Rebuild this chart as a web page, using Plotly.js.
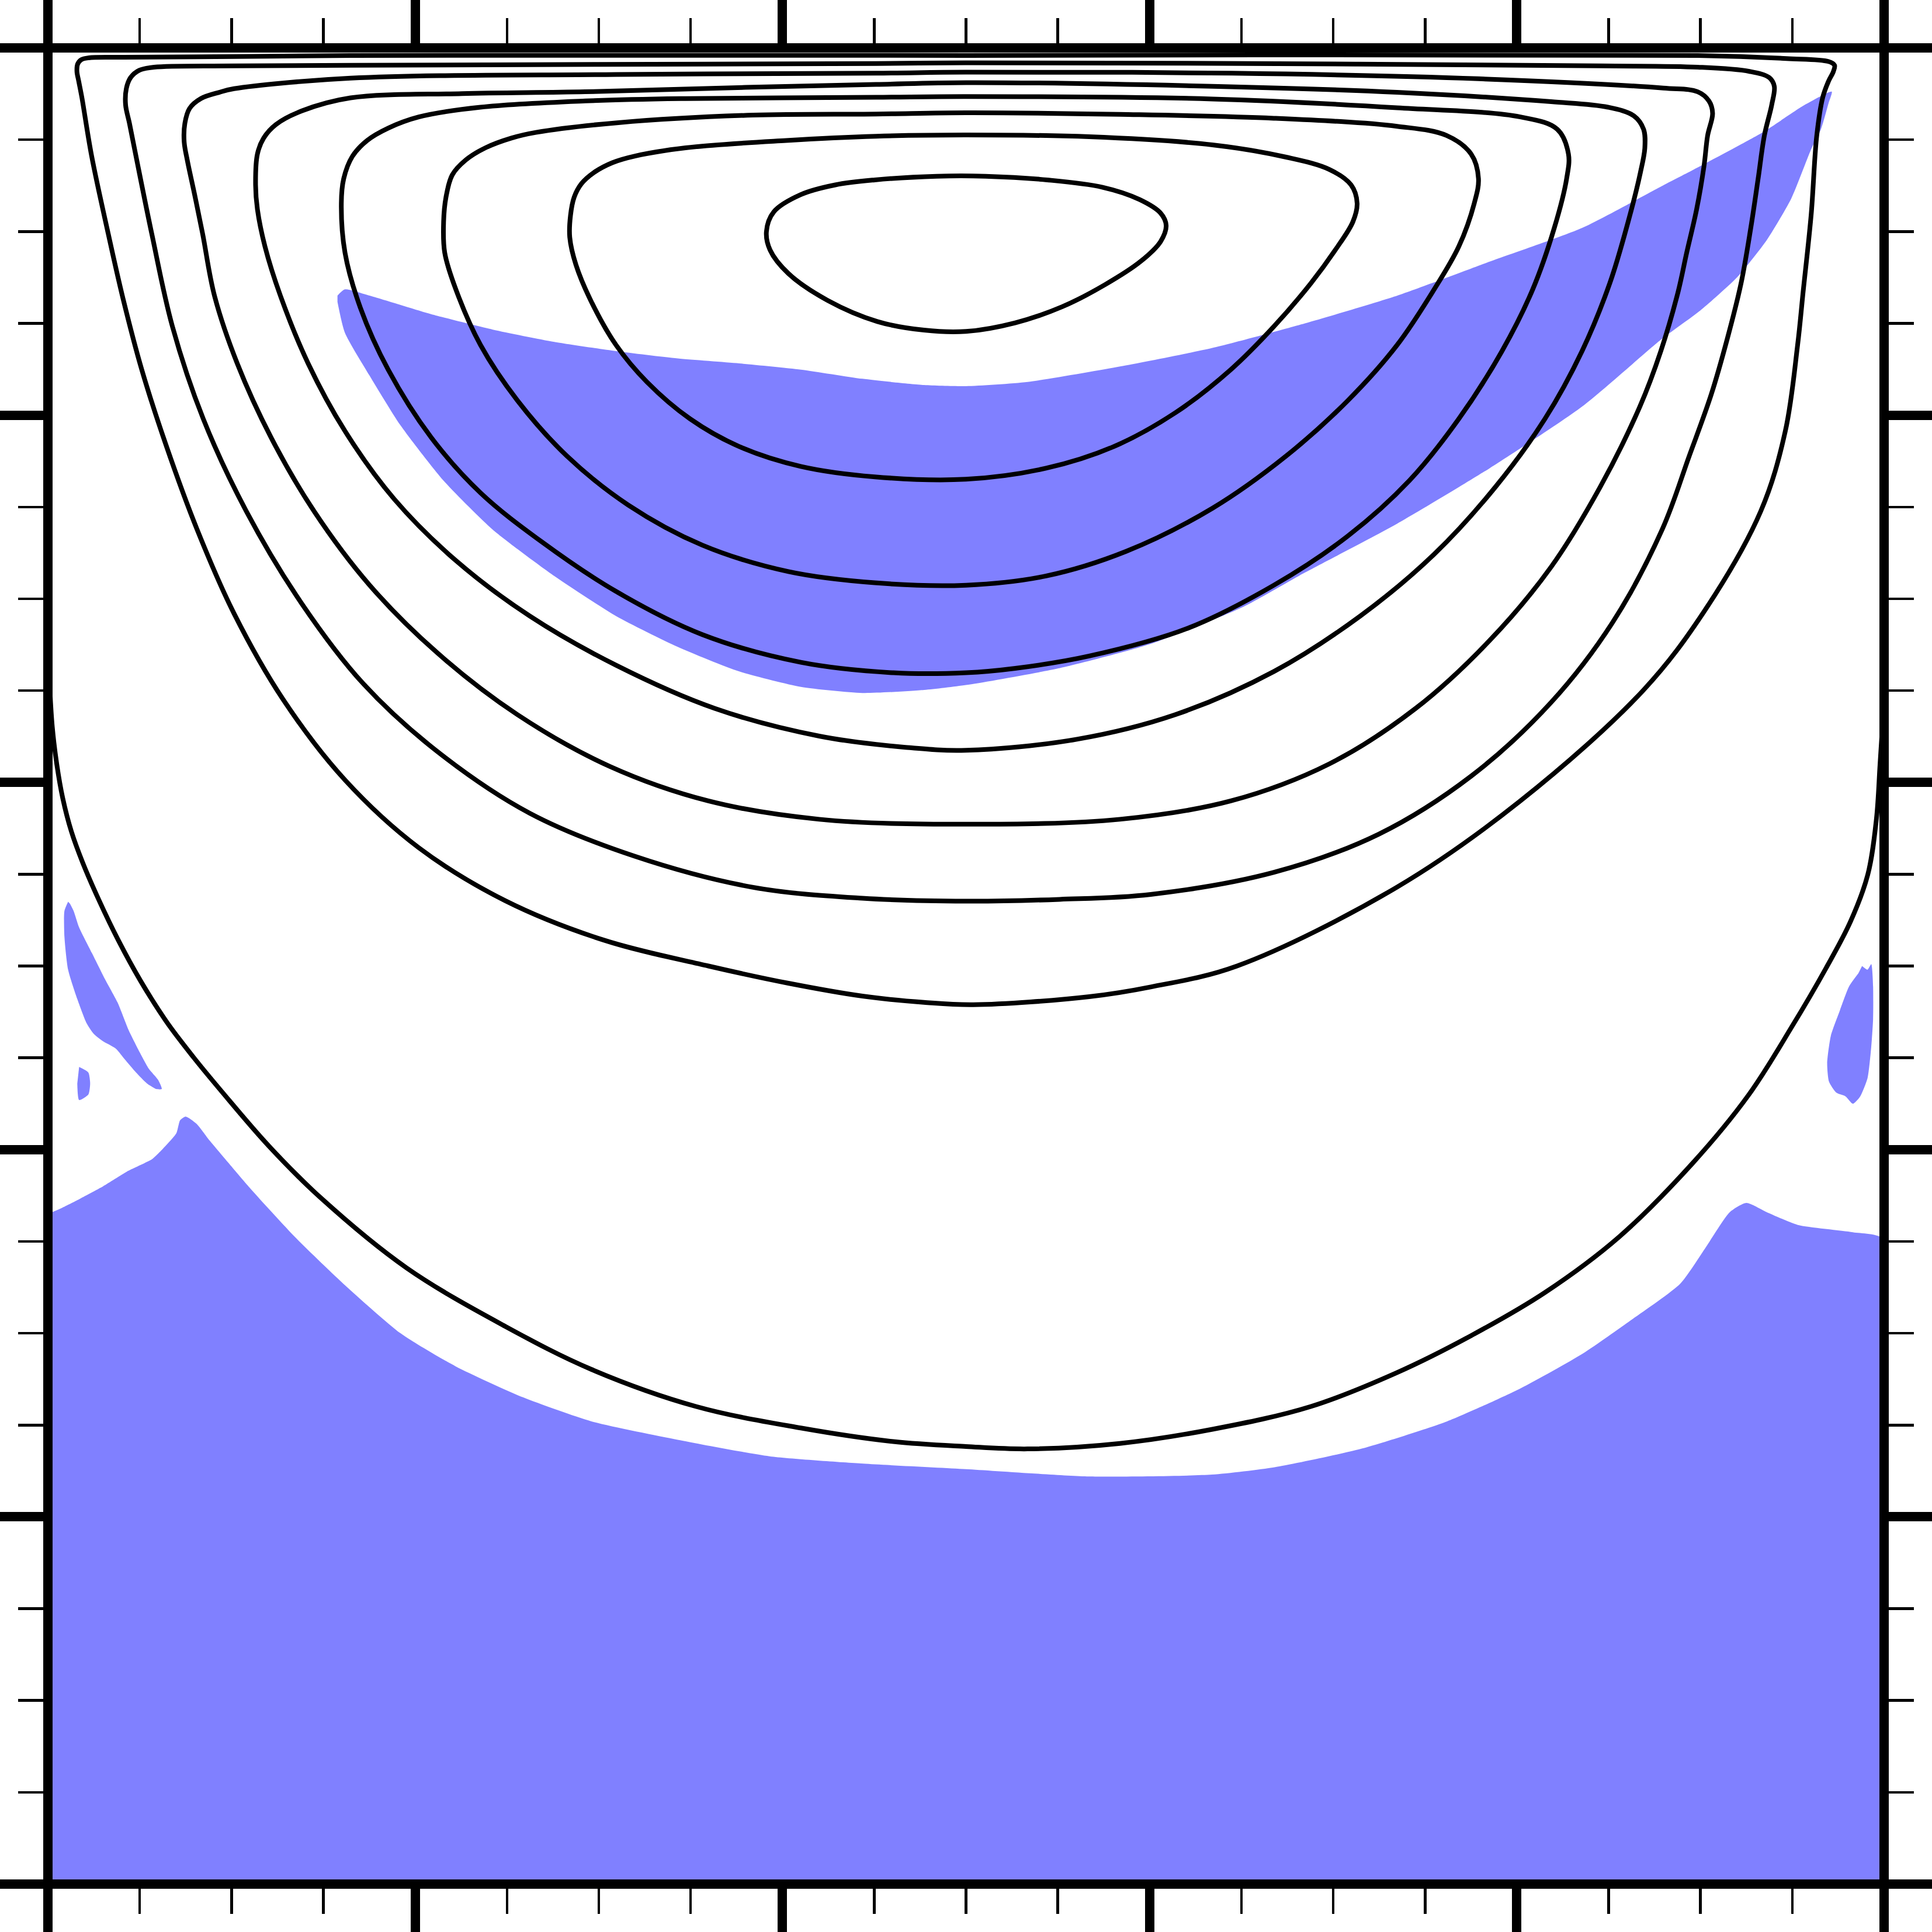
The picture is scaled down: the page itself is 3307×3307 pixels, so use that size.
<!DOCTYPE html>
<html>
<head>
<meta charset="utf-8">
<script src="https://cdn.plot.ly/plotly-3.0.1.min.js"></script>
<style>
  html, body { margin: 0; padding: 0; background: #ffffff; }
  #chart { width: 3307px; height: 3307px; }
</style>
</head>
<body>
<div id="chart"></div>
<script>
// streamline levels (unit cavity, 0..1), inner eddy first
const psi1X = [0.4503,0.4839,0.5107,0.5442,0.5744,0.5946,0.6060,0.6090,0.6060,0.5952,0.5758,0.5523,0.5268,0.5000,0.4771,0.4517,0.4248,0.4033,0.3933,0.3913,0.3953,0.4100,0.4288,0.4503];
const psi1Y = [0.9281,0.9301,0.9301,0.9281,0.9241,0.9174,0.9100,0.9033,0.8946,0.8838,0.8711,0.8590,0.8503,0.8456,0.8463,0.8510,0.8624,0.8771,0.8899,0.8999,0.9107,0.9201,0.9254,0.9281];

const psi2X = [0.5000,0.5671,0.6342,0.6744,0.6979,0.7097,0.7130,0.7107,0.7013,0.6878,0.6677,0.6442,0.6140,0.5805,0.5436,0.5000,0.4503,0.4100,0.3765,0.3497,0.3262,0.3094,0.2960,0.2876,0.2842,0.2846,0.2866,0.2906,0.2973,0.3074,0.3201,0.3473,0.4020,0.4510,0.5000];
const psi2Y = [0.9526,0.9516,0.9472,0.9405,0.9338,0.9254,0.9154,0.9053,0.8902,0.8718,0.8483,0.8248,0.8013,0.7829,0.7711,0.7651,0.7664,0.7721,0.7829,0.7980,0.8181,0.8382,0.8617,0.8818,0.8969,0.9087,0.9187,0.9261,0.9321,0.9375,0.9412,0.9456,0.9496,0.9519,0.9526];

const psi3X = [0.5000,0.5839,0.6677,0.7348,0.7617,0.7751,0.7791,0.7768,0.7684,0.7549,0.7348,0.7080,0.6744,0.6342,0.5872,0.5436,0.5000,0.4503,0.4033,0.3564,0.3161,0.2826,0.2557,0.2356,0.2222,0.2161,0.2155,0.2168,0.2202,0.2275,0.2383,0.2524,0.2658,0.3107,0.3839,0.4510,0.5000];
const psi3Y = [0.9647,0.9638,0.9617,0.9573,0.9523,0.9422,0.9288,0.9154,0.8919,0.8684,0.8382,0.8080,0.7778,0.7493,0.7258,0.7124,0.7074,0.7087,0.7148,0.7292,0.7510,0.7778,0.8080,0.8382,0.8684,0.8885,0.9053,0.9187,0.9308,0.9389,0.9456,0.9509,0.9540,0.9593,0.9634,0.9640,0.9647];

const psi4X = [0.5000,0.6342,0.7348,0.8019,0.8220,0.8281,0.8271,0.8204,0.8086,0.7919,0.7684,0.7415,0.7080,0.6677,0.6207,0.5671,0.5268,0.5000,0.4604,0.4100,0.3564,0.3094,0.2691,0.2356,0.2087,0.1853,0.1702,0.1618,0.1598,0.1611,0.1658,0.1739,0.1853,0.2020,0.2356,0.2926,0.3473,0.4510,0.5000];
const psi4Y = [0.9735,0.9722,0.9674,0.9624,0.9557,0.9422,0.9288,0.9020,0.8684,0.8349,0.7980,0.7644,0.7342,0.7074,0.6839,0.6688,0.6621,0.6597,0.6597,0.6654,0.6805,0.7040,0.7309,0.7577,0.7879,0.8248,0.8584,0.8885,0.9154,0.9288,0.9409,0.9496,0.9563,0.9624,0.9677,0.9711,0.9724,0.9731,0.9735];

const psi5X = [0.5000,0.6342,0.7348,0.8187,0.8496,0.8637,0.8690,0.8697,0.8673,0.8606,0.8506,0.8355,0.8153,0.7885,0.7549,0.7147,0.6677,0.6140,0.5604,0.5000,0.4671,0.4201,0.3631,0.3094,0.2624,0.2222,0.1886,0.1618,0.1417,0.1266,0.1182,0.1141,0.1131,0.1141,0.1175,0.1242,0.1383,0.1648,0.2255,0.2926,0.3800,0.4510,0.5000];
const psi5Y = [0.9811,0.9791,0.9758,0.9707,0.9677,0.9630,0.9557,0.9456,0.9322,0.9053,0.8718,0.8349,0.7980,0.7611,0.7242,0.6906,0.6604,0.6369,0.6235,0.6175,0.6191,0.6252,0.6403,0.6638,0.6906,0.7208,0.7543,0.7913,0.8282,0.8651,0.8919,0.9121,0.9254,0.9422,0.9509,0.9583,0.9657,0.9728,0.9751,0.9761,0.9785,0.9801,0.9811];

const psi6X = [0.5000,0.6449,0.7791,0.8798,0.8985,0.9046,0.9066,0.9039,0.9019,0.8979,0.8925,0.8878,0.8784,0.8670,0.8455,0.8187,0.7851,0.7449,0.6979,0.6442,0.5838,0.5000,0.4201,0.3597,0.3060,0.2557,0.2121,0.1752,0.1450,0.1215,0.1031,0.0907,0.0843,0.0799,0.0759,0.0742,0.0746,0.0772,0.0833,0.0933,0.1014,0.1648,0.3094,0.4510,0.5000];
const psi6Y = [0.9868,0.9862,0.9832,0.9781,0.9761,0.9711,0.9644,0.9523,0.9355,0.9121,0.8885,0.8671,0.8349,0.8047,0.7611,0.7174,0.6772,0.6403,0.6101,0.5899,0.5799,0.5772,0.5799,0.5899,0.6087,0.6369,0.6705,0.7074,0.7476,0.7879,0.8282,0.8651,0.8986,0.9201,0.9389,0.9489,0.9590,0.9671,0.9724,0.9758,0.9778,0.9835,0.9855,0.9862,0.9868];

const psi7X = [0.5000,0.7120,0.8462,0.8985,0.9267,0.9375,0.9402,0.9388,0.9348,0.9314,0.9274,0.9221,0.9146,0.9059,0.8939,0.8791,0.8522,0.8187,0.7751,0.7248,0.6677,0.6006,0.5510,0.5000,0.4436,0.3832,0.3195,0.2624,0.2121,0.1718,0.1383,0.1081,0.0846,0.0678,0.0566,0.0480,0.0444,0.0423,0.0427,0.0450,0.0497,0.0578,0.1014,0.1648,0.3000,0.4510,0.5000];
const psi7Y = [0.9919,0.9912,0.9902,0.9895,0.9872,0.9838,0.9791,0.9690,0.9523,0.9288,0.9020,0.8718,0.8416,0.8114,0.7778,0.7376,0.6872,0.6436,0.6034,0.5718,0.5510,0.5390,0.5363,0.5353,0.5369,0.5430,0.5598,0.5832,0.6168,0.6537,0.6973,0.7476,0.7980,0.8483,0.8986,0.9409,0.9590,0.9690,0.9778,0.9838,0.9878,0.9895,0.9902,0.9905,0.9910,0.9915,0.9919];

const psi8X = [0.5000,0.8985,0.9469,0.9697,0.9730,0.9724,0.9697,0.9666,0.9633,0.9603,0.9559,0.9529,0.9462,0.9328,0.9026,0.8690,0.8019,0.7348,0.6476,0.6006,0.5671,0.5040,0.4771,0.4436,0.4033,0.3597,0.3027,0.2490,0.2020,0.1618,0.1282,0.1014,0.0813,0.0645,0.0511,0.0410,0.0329,0.0238,0.0185,0.0168,0.0158,0.0162,0.0182,0.0222,0.0410,0.1014,0.1648,0.5000];
const psi8Y = [0.9959,0.9959,0.9942,0.9926,0.9906,0.9872,0.9818,0.9731,0.9520,0.9094,0.8671,0.8382,0.7913,0.7476,0.6940,0.6503,0.5899,0.5430,0.5000,0.4886,0.4833,0.4789,0.4802,0.4836,0.4906,0.5000,0.5141,0.5356,0.5644,0.6013,0.6450,0.6919,0.7376,0.7832,0.8248,0.8631,0.8986,0.9412,0.9730,0.9818,0.9872,0.9912,0.9936,0.9946,0.9949,0.9953,0.9959,0.9959];

// separatrix, left wall to right wall
const psi9X = [0.0004,0.0011,0.0024,0.0048,0.0081,0.0128,0.0189,0.0276,0.0383,0.0504,0.0645,0.0792,0.0947,0.1202,0.1484,0.1953,0.2490,0.2960,0.3530,0.4100,0.4604,0.5000,0.5335,0.5838,0.6342,0.6878,0.7348,0.7751,0.8153,0.8556,0.8958,0.9261,0.9495,0.9683,0.9817,0.9911,0.9958,0.9978,0.9995];
const psi9Y = [0.6705,0.6503,0.6302,0.6101,0.5913,0.5732,0.5564,0.5363,0.5141,0.4920,0.4698,0.4504,0.4316,0.4021,0.3739,0.3356,0.3038,0.2803,0.2601,0.2484,0.2410,0.2383,0.2370,0.2400,0.2477,0.2601,0.2786,0.2987,0.3222,0.3524,0.3927,0.4296,0.4665,0.4987,0.5242,0.5497,0.5799,0.6101,0.6369];

// shaded zones
const bandX = [0.1577,0.1617,0.1752,0.2087,0.2423,0.2758,0.3094,0.3430,0.3765,0.4101,0.4436,0.4772,0.5000,0.5336,0.5839,0.6342,0.6846,0.7349,0.7852,0.8356,0.8809,0.8966,0.9339,0.9570,0.9715,0.9697,0.9656,0.9603,0.9495,0.9361,0.9200,0.8999,0.8791,0.8356,0.7852,0.7349,0.6812,0.6510,0.6007,0.5503,0.5000,0.4772,0.4436,0.4101,0.3765,0.3430,0.3094,0.2758,0.2423,0.2154,0.1919,0.1752,0.1617,0.1577];
const bandY = [0.8651,0.8685,0.8651,0.8550,0.8466,0.8399,0.8349,0.8309,0.8282,0.8248,0.8198,0.8164,0.8158,0.8181,0.8265,0.8366,0.8500,0.8651,0.8836,0.9020,0.9258,0.9339,0.9540,0.9691,0.9762,0.9697,0.9557,0.9449,0.9181,0.8953,0.8751,0.8570,0.8416,0.8047,0.7711,0.7409,0.7124,0.6956,0.6755,0.6621,0.6530,0.6503,0.6487,0.6520,0.6604,0.6738,0.6906,0.7124,0.7376,0.7644,0.7946,0.8215,0.8450,0.8617];

const floorX = [0.000,0.007,0.017,0.030,0.043,0.057,0.065,0.070,0.072,0.075,0.081,0.088,0.099,0.111,0.135,0.162,0.192,0.222,0.259,0.296,0.343,0.393,0.444,0.500,0.567,0.634,0.668,0.715,0.762,0.802,0.836,0.862,0.889,0.903,0.916,0.925,0.936,0.953,0.983,1.000,1.000,0.000];
const floorY = [0.365,0.368,0.373,0.380,0.388,0.395,0.403,0.409,0.416,0.418,0.414,0.405,0.392,0.378,0.352,0.326,0.300,0.282,0.265,0.252,0.242,0.233,0.229,0.226,0.222,0.223,0.227,0.237,0.252,0.270,0.289,0.307,0.327,0.347,0.366,0.371,0.366,0.359,0.355,0.351,0.000,0.000];

const wallLX = [0.011,0.009,0.009,0.011,0.016,0.021,0.025,0.030,0.037,0.042,0.048,0.054,0.059,0.062,0.060,0.055,0.050,0.044,0.038,0.031,0.024,0.017,0.014,0.012];
const wallLY = [0.535,0.530,0.516,0.498,0.482,0.469,0.463,0.459,0.455,0.449,0.442,0.436,0.433,0.433,0.438,0.444,0.453,0.465,0.480,0.493,0.507,0.521,0.530,0.534];

const dotLX = [0.017,0.022,0.023,0.022,0.017,0.016];
const dotLY = [0.445,0.442,0.436,0.430,0.427,0.436];

const wallRX = [0.988,0.991,0.993,0.994,0.994,0.993,0.991,0.987,0.983,0.979,0.974,0.970,0.969,0.971,0.976,0.981,0.986];
const wallRY = [0.500,0.498,0.501,0.489,0.471,0.456,0.439,0.429,0.425,0.429,0.431,0.437,0.447,0.462,0.476,0.489,0.496];

const shade = '#8080ff';
const ink = '#000000';

function zone(xs, ys) {
  return {
    type: 'scatter', mode: 'lines', x: xs, y: ys,
    fill: 'toself', fillcolor: shade,
    line: { width: 0, color: shade, shape: 'spline', smoothing: 0.6 },
    hoverinfo: 'skip',
  };
}

function streamline(xs, ys) {
  return {
    type: 'scatter', mode: 'lines', x: xs, y: ys,
    line: { width: 8, color: ink, shape: 'spline', smoothing: 1 },
    hoverinfo: 'skip',
  };
}

const traces = [
  zone(floorX, floorY),
  zone(bandX, bandY),
  zone(wallLX, wallLY),
  zone(dotLX, dotLY),
  zone(wallRX, wallRY),
  streamline(psi9X, psi9Y),
  streamline(psi8X, psi8Y),
  streamline(psi7X, psi7Y),
  streamline(psi6X, psi6Y),
  streamline(psi5X, psi5Y),
  streamline(psi4X, psi4Y),
  streamline(psi3X, psi3Y),
  streamline(psi2X, psi2Y),
  streamline(psi1X, psi1Y),
];

const axisStyle = {
  range: [0, 1],
  showgrid: false, zeroline: false, showline: false,
  showticklabels: false,
  ticks: 'outside', tick0: 0, dtick: 0.2,
  ticklen: 82, tickwidth: 16, tickcolor: ink,
  mirror: 'ticks',
  minor: { ticks: 'outside', dtick: 0.05, ticklen: 50, tickwidth: 4.5, tickcolor: ink, showgrid: false },
  fixedrange: true,
};

const layout = {
  width: 3307, height: 3307,
  margin: { l: 82, r: 82, t: 82, b: 82, pad: 0 },
  paper_bgcolor: '#ffffff', plot_bgcolor: '#ffffff',
  showlegend: false,
  hovermode: false,
  xaxis: Object.assign({}, axisStyle),
  yaxis: Object.assign({}, axisStyle),
  shapes: [{
    type: 'rect', xref: 'paper', yref: 'paper', x0: 0, y0: 0, x1: 1, y1: 1,
    line: { color: ink, width: 16 }, layer: 'above',
  }],
};

Plotly.newPlot('chart', traces, layout, { displayModeBar: false, staticPlot: true });
</script>
</body>
</html>
